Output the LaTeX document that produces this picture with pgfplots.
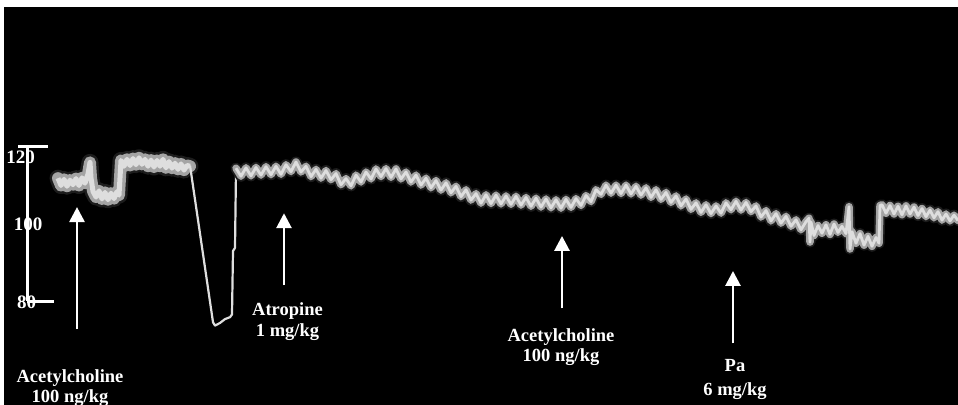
\documentclass[border=0pt]{standalone}
\usepackage{fontspec}
\setmainfont{Liberation Serif}
\usepackage{pgfplots}
\pgfplotsset{compat=1.18}
\usetikzlibrary{arrows.meta}
\newcommand\lbl{\fontsize{18.5bp}{21bp}\selectfont\bfseries}
\newcommand\scl{\fontsize{19bp}{21bp}\selectfont\bfseries}
\definecolor{halo}{HTML}{1C1C1C}
\definecolor{band}{HTML}{A4A4A4}
\definecolor{core}{HTML}{DEDEDE}

% blood pressure trace (mmHg), x = time position
\pgfplotstableread{
x y
58 111.9
61 110.0
64 111.6
67 109.8
70 111.4
73 110.2
76 111.8
79 110.0
82 112.0
85 110.6
88 113.0
90 116.0
91 112.0
93 108.5
96 107.0
99 108.6
102 106.5
105 108.2
108 106.3
111 108.0
114 106.6
117 108.4
119 107.5
121 116.5
124 115.0
127 116.8
130 115.2
133 117.0
136 115.4
139 117.2
142 115.5
145 116.8
148 115.0
151 116.6
154 114.8
157 116.5
160 115.0
163 116.8
166 114.6
169 116.2
172 114.5
175 115.8
178 114.2
181 115.6
184 114.0
187 115.2
190 115.0
}\segA

\pgfplotstableread{
x y
190 115.2
213 74.5
215 73.6
220 74.3
225 75.3
230 75.8
232 76.5
233 93.0
235 93.8
236 114.0
}\segB

\pgfplotstableread{
x y
236 114.5
241 112.4
246 114.6
251 112.5
256 114.7
261 112.7
266 114.9
271 112.8
276 115.0
281 112.9
286 115.4
291 113.6
296 116.1
301 113.5
306 115.0
311 112.3
316 114.2
321 111.9
326 113.9
331 111.5
336 113.1
341 110.2
346 111.8
351 109.9
356 112.7
361 110.9
366 113.5
371 111.7
376 114.3
381 112.3
386 114.4
391 112.1
396 114.3
401 111.7
406 113.5
411 110.9
416 112.7
421 110.1
426 111.9
431 109.4
436 111.3
441 108.8
446 110.7
451 108.1
456 109.8
461 107.1
466 108.9
471 106.2
476 107.9
481 105.4
486 107.6
491 105.3
496 107.5
501 105.2
506 107.3
511 105.1
516 107.2
521 104.9
526 106.9
531 104.6
536 106.7
541 104.4
546 106.5
551 104.2
556 106.3
561 104.1
566 106.4
571 104.3
576 106.6
581 104.8
586 107.4
591 105.8
596 108.9
601 107.7
606 110.1
611 108.0
616 110.1
621 107.9
626 110.1
631 107.8
636 109.8
641 107.5
646 109.4
651 106.9
656 108.9
661 106.4
666 108.2
671 105.6
676 107.3
681 104.7
686 106.5
691 103.8
696 105.5
701 103.0
706 105.0
711 102.7
716 104.7
721 102.8
726 105.5
731 103.7
736 105.9
741 103.6
746 105.6
751 103.2
756 104.7
761 101.8
766 103.5
771 100.8
776 102.7
781 100.2
786 102.0
791 99.4
796 101.1
801 98.5
806 100.6
809 101.5
810 95.3
811 100.5
814 97.0
818 99.6
822 97.6
826 99.8
830 97.3
834 100.0
838 97.8
842 99.4
846 97.5
849 104.5
850 93.5
852 98.0
856 95.0
860 97.5
864 94.5
868 96.8
872 94.2
876 96.5
879 95.0
880 104.8
882 105.0
886 102.8
890 104.8
894 102.6
898 104.6
902 102.4
906 104.7
910 102.6
914 104.4
918 102.2
922 104.0
926 101.9
930 103.6
934 101.6
938 103.2
942 101.0
946 102.6
950 100.8
954 102.3
958 100.9
}\segC

\begin{document}
\begin{tikzpicture}
\useasboundingbox (0,0) rectangle (958bp,405bp);
\fill[white] (0,0) rectangle (958bp,405bp);
\fill[black] (4bp,0) rectangle (958bp,398bp);
\begin{axis}[at={(0,0)}, anchor=south west,
  width=958bp, height=405bp, scale only axis,
  xmin=0, xmax=958, ymin=52.99, ymax=158.18,
  axis lines=none, clip=false]
% trace
\addplot[halo, line width=17bp, line join=round, line cap=round] table {\segA};
\addplot[band, line width=12bp, line join=round, line cap=round] table {\segA};
\addplot[core, line width=5bp, line join=round] table {\segA};
\addplot[core, line width=2.2bp, line join=round] table {\segB};
\addplot[halo, line width=11bp, line join=round, line cap=round] table {\segC};
\addplot[band, line width=7.5bp, line join=round, line cap=round] table {\segC};
\addplot[core, line width=2.8bp, line join=round] table {\segC};

% scale bar
\draw[white, line width=3bp] (axis cs:27,120) -- (axis cs:27,80);
\draw[white, line width=3bp] (axis cs:18,120) -- (axis cs:48,120);
\draw[white, line width=3bp] (axis cs:27,80) -- (axis cs:54,80);
\node[text=white, font=\scl, anchor=base] at (axis cs:20.5,115.8) {120};
\node[text=white, font=\scl, anchor=base] at (axis cs:28,98.4) {100};
\node[text=white, font=\scl, anchor=base] at (axis cs:26.5,78.1) {80};

% arrows
\tikzset{inj/.style={white, line width=2.8bp, -{Triangle[length=15bp,width=15bp]}}}
\draw[inj] (axis cs:77,72.7) -- (axis cs:77,104.4);
\draw[inj] (axis cs:284,84.1) -- (axis cs:284,102.8);
\draw[inj] (axis cs:562,78.1) -- (axis cs:562,96.9);
\draw[inj] (axis cs:733,69.0) -- (axis cs:733,87.8);

% labels
\node[text=white, font=\lbl, anchor=base] at (axis cs:70,58.9) {Acetylcholine};
\node[text=white, font=\lbl, anchor=base] at (axis cs:70,53.6) {100 ng/kg};
\node[text=white, font=\lbl, anchor=base] at (axis cs:287.5,76.3) {Atropine};
\node[text=white, font=\lbl, anchor=base] at (axis cs:287.5,70.9) {1 mg/kg};
\node[text=white, font=\lbl, anchor=base] at (axis cs:561,69.6) {Acetylcholine};
\node[text=white, font=\lbl, anchor=base] at (axis cs:561,64.2) {100 ng/kg};
\node[text=white, font=\lbl, anchor=base] at (axis cs:735,61.6) {Pa};
\node[text=white, font=\lbl, anchor=base] at (axis cs:735,55.5) {6 mg/kg};
\end{axis}
\end{tikzpicture}
\end{document}
